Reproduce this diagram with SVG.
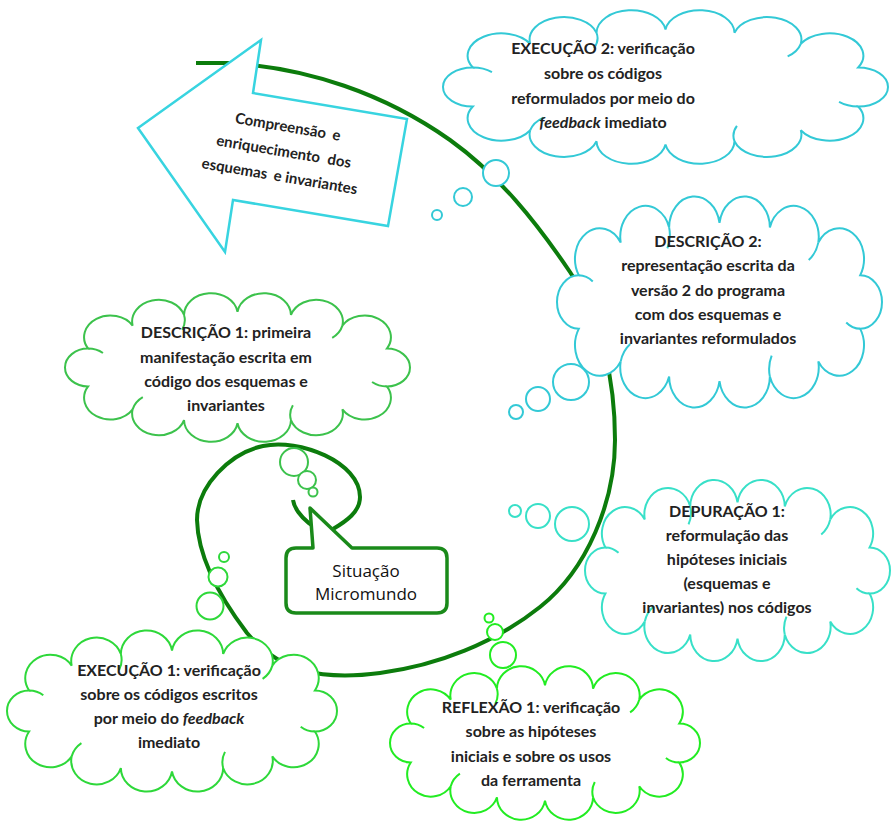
<svg xmlns="http://www.w3.org/2000/svg" width="892" height="826" viewBox="0 0 892 826">
<defs>
<style>
text{font-family:Lato,"Liberation Sans",sans-serif;font-weight:bold;font-size:16px;fill:#222;text-anchor:middle}
.bub{fill:#fff;stroke-width:2}
.c-cyan{stroke:#33c9d6}
.c-turq{stroke:#38e0c8}
.c-g1{stroke:#3cc24c}
.c-g2{stroke:#2ed83a}
.c-g3{stroke:#22ec22}
.spiral{fill:none;stroke:#0c7c0c;stroke-width:4}
.arrowtxt{font-size:15px}
.callout{font-family:"Open Sans","Liberation Sans",sans-serif;font-weight:normal;font-size:17px;fill:#111}
</style>
<g id="cloud">
<path fill="#fff" stroke-width="2" vector-effect="non-scaling-stroke" d="M13.4,62.2 A13.4,12.2 0 0 1 13.4,37.8 A15.2,13.9 0 0 1 39.2,23 A15.4,14.05 0 0 1 69,16.1 A15.6,14.2 0 0 1 100,14 A15.6,14.2 0 0 1 131,16.1 A15.4,14.05 0 0 1 160.8,23 A15.2,13.9 0 0 1 186.6,37.8 A13.4,12.2 0 0 1 186.6,62.2 A15.2,13.9 0 0 1 160.8,77 A15.4,14.05 0 0 1 131,83.9 A15.6,14.2 0 0 1 100,86 A15.6,14.2 0 0 1 69,83.9 A15.4,14.05 0 0 1 39.2,77 A15.2,13.9 0 0 1 13.4,62.2 Z"/>
<path fill="none" stroke-width="2" vector-effect="non-scaling-stroke" d="M13.4,37.8 A13.4,12.2 0 0 1 22,40.65 M69,16.1 A15.4,14.05 0 0 1 67.9,25.65 M160.8,23 A15.4,14.05 0 0 1 154.9,30.9 M186.6,62.2 A13.4,12.2 0 0 1 178,59.35 M131,83.9 A15.4,14.05 0 0 1 132.1,74.35 M39.2,77 A15.4,14.05 0 0 1 45.1,69.1"/>
</g>
</defs>
<rect width="892" height="826" fill="#fff"/>

<g id="connectors">
<path class="spiral" d="M196,63 L227,63 C307,67 385,94 450,140 C498.6,174.8 536.4,222.2 570,272 C602.5,320 615,382 615,440 C615,501 587.6,569.2 540,607 C494.8,643 437.4,665.5 380,673 C320,681 279.5,671 247,633 C222,600 198,560 197,520 C197,486 230,453 263,446 C299,438 360,462 360,497 C360,512 346,521.3 333,529 C320,537 295,515 293,500"/>
</g>

<g id="node-compreensao">
<polygon points="138,128 261,40 253,93 407,119 388,226 233,200 225,252" fill="#fff" stroke="#38d4e0" stroke-width="2.5" stroke-linejoin="miter"/>
<g transform="rotate(9.6 280 150)">
<text class="arrowtxt" x="284" y="131">Compreensão<tspan dx="3"> e</tspan></text>
<text class="arrowtxt" x="284" y="156">enriquecimento<tspan dx="4"> dos</tspan></text>
<text class="arrowtxt" x="284" y="181">esquemas<tspan dx="3"> e invariantes</tspan></text>
</g>
</g>

<g id="node-execucao2">
<use href="#cloud" class="c-cyan" transform="translate(443,7) scale(2.225,1.6)"/>
<circle class="bub c-cyan" cx="496" cy="173" r="13"/>
<circle class="bub c-cyan" cx="463" cy="197" r="9"/>
<circle class="bub c-cyan" cx="437" cy="215" r="5"/>
<text x="603" y="54">EXECUÇÃO 2: verificação</text>
<text x="603" y="79">sobre os códigos</text>
<text x="603" y="104">reformulados por meio do</text>
<text x="603" y="128"><tspan font-style="italic">feedback</tspan> imediato</text>
</g>

<g id="node-descricao2">
<use href="#cloud" class="c-cyan" transform="translate(557,192) scale(1.625,2.2)"/>
<circle class="bub c-cyan" cx="571" cy="382" r="18"/>
<circle class="bub c-cyan" cx="538" cy="399" r="12"/>
<circle class="bub c-cyan" cx="516" cy="412" r="7"/>
<text x="708" y="247">DESCRIÇÃO 2:</text>
<text x="708" y="271">representação escrita da</text>
<text x="708" y="296">versão 2 do programa</text>
<text x="708" y="320">com dos esquemas e</text>
<text x="708" y="344">invariantes reformulados</text>
</g>

<g id="node-descricao1">
<use href="#cloud" class="c-g1" transform="translate(65,290) scale(1.725,1.55)"/>
<circle class="bub c-g1" cx="294" cy="462" r="14"/>
<circle class="bub c-g1" cx="307" cy="480" r="9"/>
<circle class="bub c-g1" cx="313" cy="492" r="4.5"/>
<text x="226" y="338">DESCRIÇÃO 1: primeira</text>
<text x="226" y="363">manifestação escrita em</text>
<text x="226" y="387">código dos esquemas e</text>
<text x="226" y="411">invariantes</text>
</g>

<g id="node-depuracao1">
<use href="#cloud" class="c-turq" transform="translate(585,476) scale(1.525,1.89)"/>
<circle class="bub c-turq" cx="572" cy="524" r="17"/>
<circle class="bub c-turq" cx="538" cy="516" r="12"/>
<circle class="bub c-turq" cx="515" cy="511" r="6"/>
<text x="727" y="517">DEPURAÇÃO 1:</text>
<text x="727" y="541">reformulação das</text>
<text x="727" y="565">hipóteses iniciais</text>
<text x="727" y="589">(esquemas e</text>
<text x="727" y="613">invariantes) nos códigos</text>
</g>

<g id="node-execucao1">
<use href="#cloud" class="c-g2" transform="translate(7,627) scale(1.65,1.68)"/>
<circle class="bub c-g2" cx="210" cy="606" r="13.5"/>
<circle class="bub c-g2" cx="218" cy="577" r="9.5"/>
<circle class="bub c-g2" cx="224" cy="557" r="5"/>
<text x="169" y="676">EXECUÇÃO 1: verificação</text>
<text x="169" y="700">sobre os códigos escritos</text>
<text x="169" y="724">por meio do <tspan font-style="italic">feedback</tspan></text>
<text x="169" y="748">imediato</text>
</g>

<g id="node-reflexao1">
<use href="#cloud" class="c-g3" transform="translate(390,663) scale(1.55,1.6)"/>
<circle class="bub c-g3" cx="503" cy="655" r="13"/>
<circle class="bub c-g3" cx="495" cy="632" r="8"/>
<circle class="bub c-g3" cx="489" cy="618" r="4.5"/>
<text x="531" y="713">REFLEXÃO 1: verificação</text>
<text x="531" y="737">sobre as hipóteses</text>
<text x="531" y="762">iniciais e sobre os usos</text>
<text x="531" y="786">da ferramenta</text>
</g>

<g id="node-situacao">
<path d="M296,548 L313,548 L310,508 L352,548 L437,548 Q447,548 447,558 L447,603 Q447,613 437,613 L296,613 Q286,613 286,603 L286,558 Q286,548 296,548 Z" fill="#fff" stroke="#1a8a1a" stroke-width="3.5" stroke-linejoin="round"/>
<text class="callout" x="366" y="577">Situação</text>
<text class="callout" x="366" y="600">Micromundo</text>
</g>
</svg>
